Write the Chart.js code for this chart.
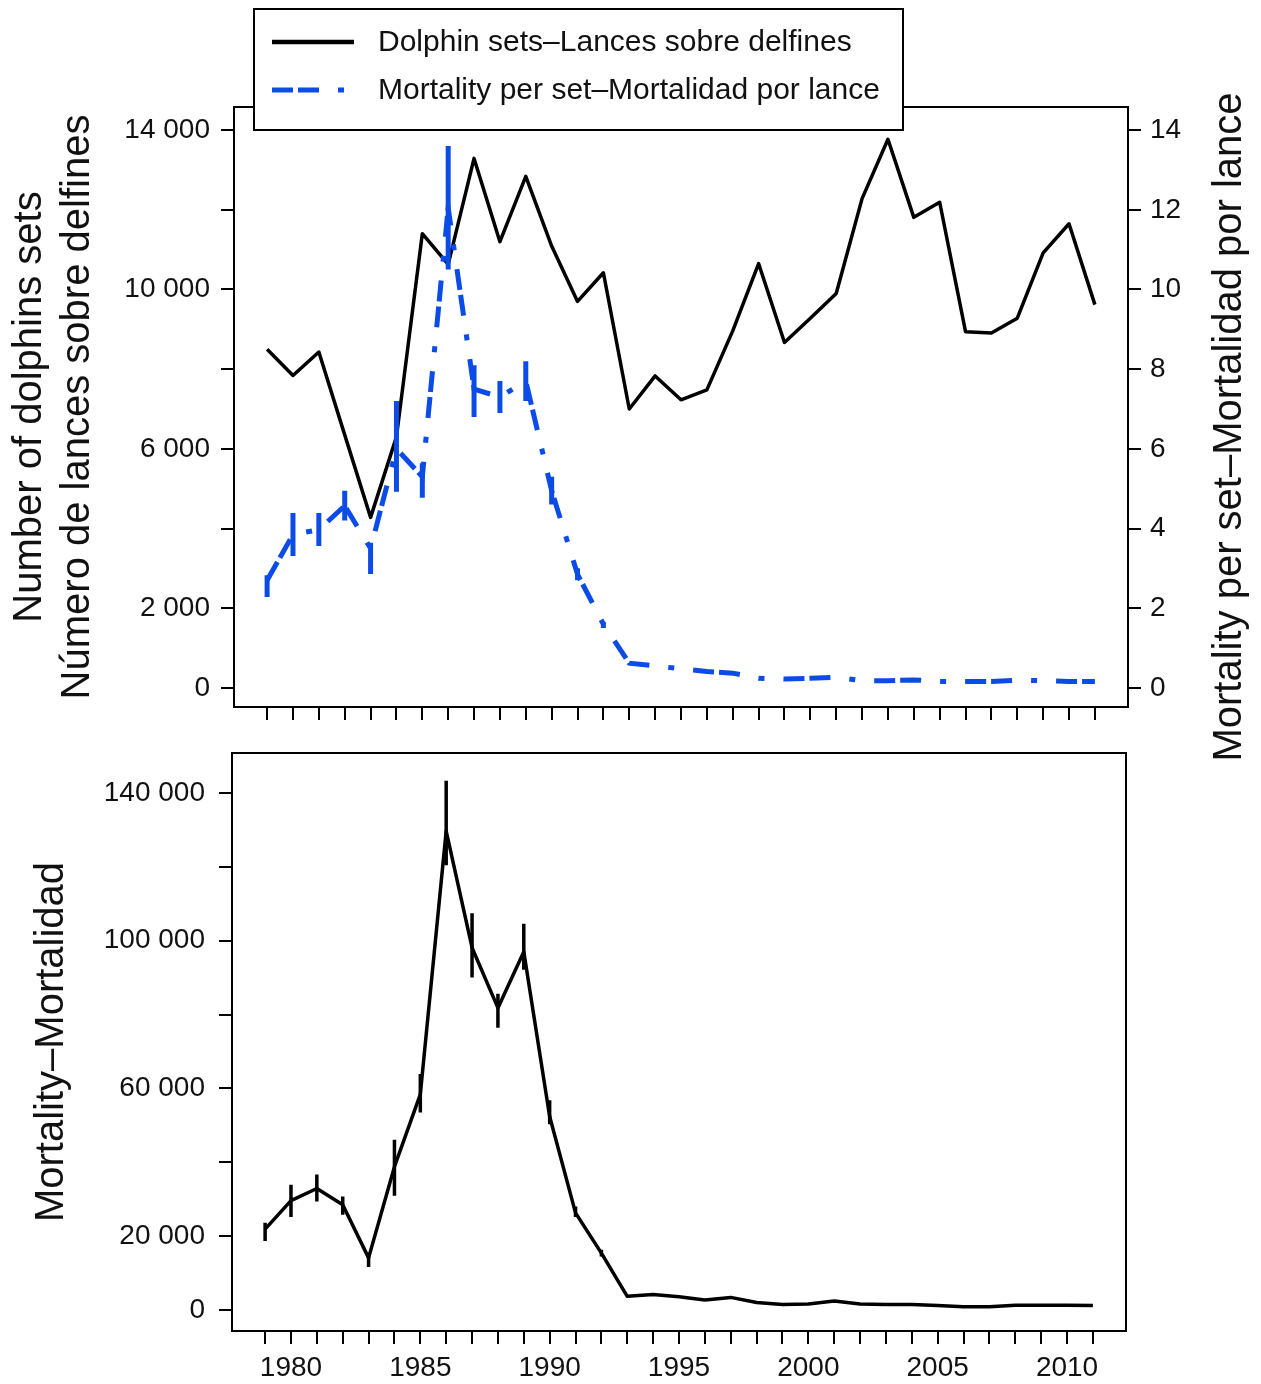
<!DOCTYPE html>
<html>
<head>
<meta charset="utf-8">
<script src="https://cdn.jsdelivr.net/npm/chart.js@4.4.1/dist/chart.umd.min.js"></script>
<style>
  html, body { margin: 0; padding: 0; background: #fff; }
  #wrap { position: relative; width: 1261px; height: 1384px; }
  canvas { position: absolute; left: 0; }
  #topChart { top: 0; }
  #bottomChart { top: 735px; }
</style>
</head>
<body>
<div id="wrap">
  <canvas id="topChart" width="1261" height="780"></canvas>
  <canvas id="bottomChart" width="1261" height="649"></canvas>
</div>
<script>
// data
const years = [1979, 1980, 1981, 1982, 1983, 1984, 1985, 1986, 1987, 1988, 1989,
               1990, 1991, 1992, 1993, 1994, 1995, 1996, 1997, 1998, 1999, 2000,
               2001, 2002, 2003, 2004, 2005, 2006, 2007, 2008, 2009, 2010, 2011];

const dolphinSets = [8500, 7840, 8430, 6350, 4280, 6300, 11400, 10630, 13290, 11200, 12840,
                     11090, 9700, 10420, 7000, 7830, 7230, 7480, 8960, 10650, 8670, 9280,
                     9900, 12280, 13770, 11810, 12190, 8940, 8910, 9280, 10920, 11650, 9620];

const mortPerSet = [2.7, 3.85, 3.97, 4.57, 3.5, 6.0, 5.3, 12.05, 7.5, 7.3, 7.7,
                    4.95, 2.85, 1.6, 0.62, 0.55, 0.48, 0.41, 0.37, 0.24, 0.22, 0.24,
                    0.27, 0.18, 0.18, 0.2, 0.16, 0.16, 0.16, 0.19, 0.18, 0.16, 0.16];
const perSetLow  = [2.28, 3.31, 3.56, 4.2, 2.86, 4.92, 4.77, 10.5, 6.8, 6.9, 7.2,
                    4.6, 2.7, 1.5, null, null, null, null, null, null, null, null,
                    null, null, null, null, null, null, null, null, null, null, null];
const perSetHigh = [2.83, 4.39, 4.39, 4.95, 3.64, 7.2, 5.64, 13.6, 8.1, 7.7, 8.2,
                    5.3, 3.0, 1.65, null, null, null, null, null, null, null, null,
                    null, null, null, null, null, null, null, null, null, null, null];

const mortality = [21900, 29600, 32900, 28500, 14100, 38800, 58400, 129700, 98100, 81800, 97000,
                   52400, 26300, 15400, 3700, 4200, 3600, 2700, 3400, 2000, 1500, 1600,
                   2400, 1600, 1500, 1500, 1200, 900, 900, 1300, 1300, 1300, 1200];
const mortLow  = [18700, 25200, 29400, 25800, 11600, 30900, 53500, 120400, 90000, 76400, 92100,
                  50300, 25200, 14500, null, null, null, null, null, null, null, null,
                  null, null, null, null, null, null, null, null, null, null, null];
const mortHigh = [23600, 33900, 36700, 30700, 15500, 46100, 63900, 143300, 107400, 85600, 104600,
                  56800, 28000, 16300, null, null, null, null, null, null, null, null,
                  null, null, null, null, null, null, null, null, null, null, null];

// axis ticks
const setTicks = [0, 2000, 4000, 6000, 8000, 10000, 12000, 14000];
const setTickLabels = [0, 2000, 6000, 10000, 14000];
const perSetTicks = [0, 2, 4, 6, 8, 10, 12, 14];
const mortTicks = [0, 20000, 40000, 60000, 80000, 100000, 120000, 140000];
const mortTickLabels = [0, 20000, 60000, 100000, 140000];
const yearTickLabels = [1980, 1985, 1990, 1995, 2000, 2005, 2010];

const BLUE = '#0b4ce6';
const FONT = "'Liberation Sans', Arial, Helvetica, sans-serif";
Chart.defaults.font.family = FONT;
Chart.defaults.color = '#111';

function pts(values) {
  return years.map((yr, i) => ({ x: yr, y: values[i] }));
}
// vertical segments lo..hi, separated by gaps
function errorBars(lo, hi) {
  const out = [];
  years.forEach((yr, i) => {
    if (lo[i] == null) return;
    out.push({ x: yr, y: lo[i] }, { x: yr, y: hi[i] }, { x: yr, y: null });
  });
  return out;
}
function spaced(v) {
  return String(v).replace(/\B(?=(\d{3})+(?!\d))/g, ' ');
}
function fixedTicks(list) {
  return scale => { scale.ticks = list.map(v => ({ value: v })); };
}
// pin an axis to a given size and stop it from pushing the plot area around
function pinWidth(w) {
  return s => { s.width = w; s.paddingTop = 0; s.paddingBottom = 0; };
}
function pinHeight(h) {
  return s => { s.height = h; s.paddingLeft = 0; s.paddingRight = 0; };
}

const tickGrid = { drawOnChartArea: false, drawTicks: true, tickLength: 13, color: '#000', lineWidth: 2 };

const frame = {
  id: 'frame',
  afterDraw(chart) {
    const { ctx, chartArea: a } = chart;
    ctx.save();
    ctx.strokeStyle = '#000';
    ctx.lineWidth = 2;
    ctx.strokeRect(a.left, a.top, a.right - a.left, a.bottom - a.top);
    ctx.restore();
  }
};

const legendBox = {
  id: 'legendBox',
  afterDraw(chart) {
    const ctx = chart.ctx;
    ctx.save();
    ctx.fillStyle = '#fff';
    ctx.fillRect(253, 8, 651, 123);
    ctx.strokeStyle = '#000';
    ctx.lineWidth = 2;
    ctx.strokeRect(254, 9, 649, 121);
    chart.data.datasets.slice(0, 2).forEach((ds, i) => {
      const y = 42 + i * 48;
      ctx.beginPath();
      ctx.setLineDash(ds.borderDash || []);
      ctx.strokeStyle = ds.borderColor;
      ctx.lineWidth = i ? 5 : 4.5;
      ctx.moveTo(272, y);
      ctx.lineTo(i ? 344 : 354, y);
      ctx.stroke();
      ctx.setLineDash([]);
      ctx.fillStyle = '#111';
      ctx.font = '30px ' + FONT;
      ctx.textBaseline = 'middle';
      ctx.fillText(ds.label, 378, y + 1);
    });
    ctx.restore();
  }
};

// right axis title reads bottom-to-top like the original
const rightTitle = {
  id: 'rightTitle',
  afterDraw(chart) {
    const t = chart.options.scales.y1.title;
    const ctx = chart.ctx;
    ctx.save();
    ctx.translate(1230, 427);
    ctx.rotate(-Math.PI / 2);
    ctx.font = '40px ' + FONT;
    ctx.fillStyle = '#111';
    ctx.textAlign = 'center';
    ctx.textBaseline = 'middle';
    ctx.fillText(t.text, 0, 0);
    ctx.restore();
  }
};

new Chart(document.getElementById('topChart'), {
  type: 'line',
  data: {
    datasets: [
      { label: 'Dolphin sets–Lances sobre delfines', data: pts(dolphinSets), yAxisID: 'y',
        borderColor: '#000', borderWidth: 3.5, pointRadius: 0, borderJoinStyle: 'round', order: 3 },
      { label: 'Mortality per set–Mortalidad por lance', data: pts(mortPerSet), yAxisID: 'y1',
        borderColor: BLUE, borderWidth: 5, borderDash: [21, 5, 21, 19, 6, 19], pointRadius: 0, order: 1 },
      { label: 'err', data: errorBars(perSetLow, perSetHigh), yAxisID: 'y1',
        borderColor: BLUE, borderWidth: 5, pointRadius: 0, spanGaps: false, order: 2 }
    ]
  },
  options: {
    responsive: false,
    animation: false,
    layout: { padding: { top: 107, left: 0, right: 0, bottom: 0 } },
    plugins: { legend: { display: false }, tooltip: { enabled: false } },
    scales: {
      x: {
        type: 'linear', min: 1977.72, max: 2012.28,
        afterBuildTicks: fixedTicks(years),
        afterFit: pinHeight(73),
        border: { display: false },
        grid: tickGrid,
        ticks: { autoSkip: false, maxRotation: 0, callback: () => '' }
      },
      y: {
        position: 'left', min: -480, max: 14580,
        afterBuildTicks: fixedTicks(setTicks),
        afterFit: pinWidth(234),
        border: { display: false },
        grid: tickGrid,
        ticks: { padding: 11, font: { size: 28 },
                 callback: v => setTickLabels.includes(v) ? spaced(v) : '' },
        title: { display: true, text: ['Number of dolphins sets', 'Número de lances sobre delfines'],
                 font: { size: 40 }, padding: { top: 6 } }
      },
      y1: {
        position: 'right', min: -0.48, max: 14.58,
        afterBuildTicks: fixedTicks(perSetTicks),
        afterFit: pinWidth(133),
        border: { display: false },
        grid: tickGrid,
        ticks: { padding: 9, font: { size: 28 }, callback: v => String(v) },
        title: { display: false, text: 'Mortality per set–Mortalidad por lance' }
      }
    }
  },
  plugins: [frame, legendBox, rightTitle]
});

new Chart(document.getElementById('bottomChart'), {
  type: 'line',
  data: {
    datasets: [
      { label: 'Mortality–Mortalidad', data: pts(mortality),
        borderColor: '#000', borderWidth: 3.5, pointRadius: 0, borderJoinStyle: 'round' },
      { label: 'err', data: errorBars(mortLow, mortHigh),
        borderColor: '#000', borderWidth: 3.5, pointRadius: 0, spanGaps: false }
    ]
  },
  options: {
    responsive: false,
    animation: false,
    layout: { padding: { top: 18, left: 0, right: 135, bottom: 0 } },
    plugins: { legend: { display: false }, tooltip: { enabled: false } },
    scales: {
      x: {
        type: 'linear', min: 1977.72, max: 2012.28,
        afterBuildTicks: fixedTicks(years),
        afterFit: pinHeight(53),
        border: { display: false },
        grid: tickGrid,
        ticks: { autoSkip: false, maxRotation: 0, padding: 7, font: { size: 28 },
                 callback: v => yearTickLabels.includes(v) ? String(v) : '' }
      },
      y: {
        position: 'left', min: -5700, max: 150830,
        afterBuildTicks: fixedTicks(mortTicks),
        afterFit: pinWidth(232),
        border: { display: false },
        grid: tickGrid,
        ticks: { padding: 14, font: { size: 28 },
                 callback: v => mortTickLabels.includes(v) ? spaced(v) : '' },
        title: { display: true, text: 'Mortality–Mortalidad', font: { size: 40 }, padding: { top: 28 } }
      }
    }
  },
  plugins: [frame]
});
</script>
</body>
</html>
